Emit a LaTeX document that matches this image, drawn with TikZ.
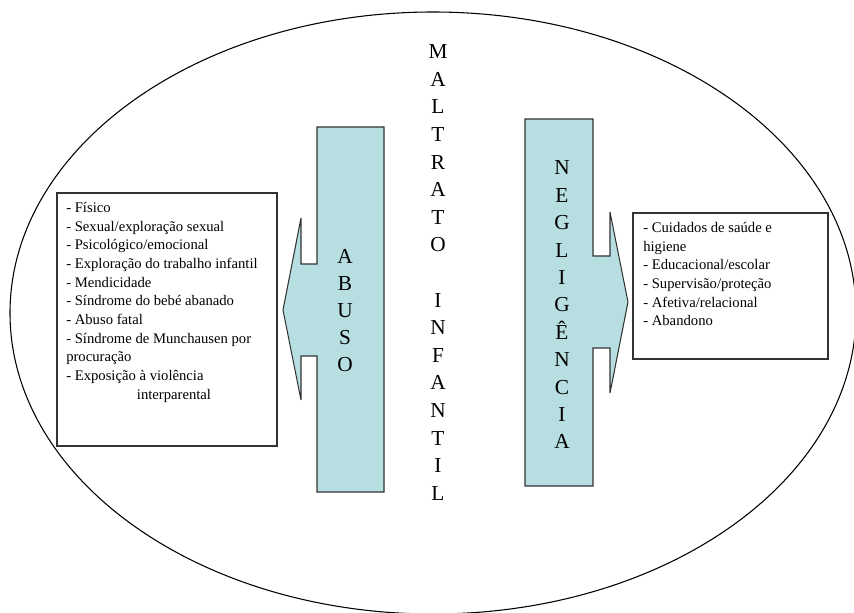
\documentclass[tikz,border=0pt]{standalone}
\usepackage{fontspec}
\setmainfont{Liberation Serif}
\usetikzlibrary{shapes.geometric}
\definecolor{armfill}{RGB}{183,223,226}

\begin{document}
\begin{tikzpicture}[x=0.75pt,y=-0.75pt,
    arm/.style={draw=black!80,fill=armfill,line width=0.8pt,line join=miter},
    listbox/.style={rectangle,draw=black!80,fill=white,line width=0.8pt,inner sep=0pt},
    listtext/.style={align=left,inner sep=0pt,anchor=north west,font=\fontsize{11}{14}\selectfont},
    bigword/.style={align=center,inner sep=0pt,font=\fontsize{16}{20.5}\selectfont}]
  \useasboundingbox (0,0) rectangle (854,613);
  \node[ellipse,draw,line width=0.8pt,inner sep=0pt,minimum width=634.5pt,minimum height=451.5pt] (outer) at (433,313) {};
  % the two arms
  \draw[arm] (317,127) -- (384,127) -- (384,492) -- (317,492) -- (317,356) -- (301,356) -- (301,400)
    -- (283,310) -- (301,218) -- (301,264) -- (317,264) -- cycle;
  \draw[arm] (525,119) -- (593,119) -- (593,256) -- (610,256) -- (610,212) -- (628,302)
    -- (610,393) -- (610,348) -- (593,348) -- (593,486) -- (525,486) -- cycle;
  % lists
  \node[listbox,minimum width=165pt,minimum height=189.75pt] (abusobox) at (167,319.5) {};
  \node[listbox,minimum width=146.25pt,minimum height=109.5pt] (neglbox) at (730.5,286) {};
  \node[listtext] (abusolist) at (66,202) {- Físico\\- Sexual/exploração sexual\\- Psicológico/emocional\\
    - Exploração do trabalho infantil\\- Mendicidade\\- Síndrome do bebé abanado\\- Abuso fatal\\
    - Síndrome de Munchausen por\\procuração\\- Exposição à violência\\\hspace*{53pt}interparental};
  \node[listtext] (negllist) at (643,222) {- Cuidados de saúde e\\higiene\\- Educacional/escolar\\
    - Supervisão/proteção\\- Afetiva/relacional\\- Abandono};
  % vertical words
  \node[bigword,font=\fontsize{16}{20.7}\selectfont] (maltrato) at (438,272.5) {M\\A\\L\\T\\R\\A\\T\\O\\ \\I\\N\\F\\A\\N\\T\\I\\L};
  \node[bigword,font=\fontsize{16}{20.25}\selectfont] (abuso) at (345,311) {A\\B\\U\\S\\O};
  \node[bigword,font=\fontsize{16}{20.55}\selectfont] (negligencia) at (562,305) {N\\E\\G\\L\\I\\G\\Ê\\N\\C\\I\\A};
\end{tikzpicture}
\end{document}
